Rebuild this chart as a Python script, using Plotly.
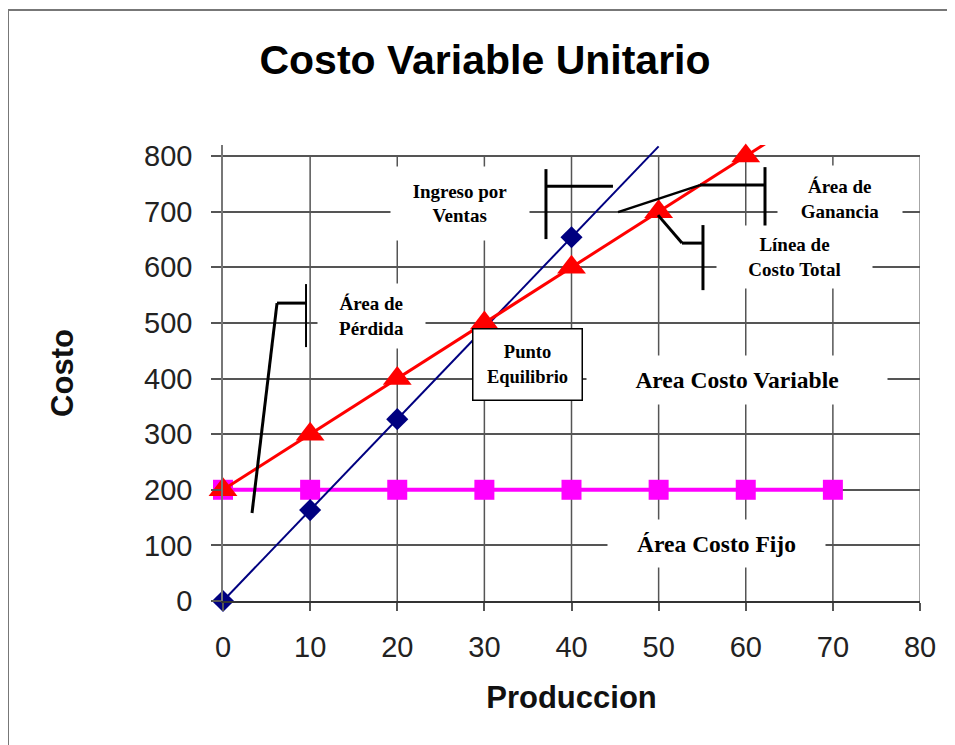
import plotly.graph_objects as go

# ---- data ----
produccion = [0, 10, 20, 30, 40, 50, 60, 70]
ingreso_ventas = [0, 163.5, 327, 490.5, 654, 817.5]          # blue (x 0..50)
costo_total = [200, 300, 400, 500, 600, 700, 800, 900]       # red
costo_fijo = [200, 200, 200, 200, 200, 200, 200, 200]        # magenta
x_ticks = [0, 10, 20, 30, 40, 50, 60, 70, 80]
y_ticks = [0, 100, 200, 300, 400, 500, 600, 700, 800]
Y_MAX_VISIBLE = 800
Y_CLIP = 820

title_text = "Costo Variable Unitario"
x_title = "Produccion"
y_title = "Costo"

fig = go.Figure()

def sizes(vals, s):
    return [s if v <= Y_MAX_VISIBLE else 0 for v in vals]

fig.add_trace(go.Scatter(
    x=produccion[:len(costo_fijo)], y=costo_fijo, mode="lines+markers", cliponaxis=False,
    line=dict(color="#FF00FF", width=4),
    marker=dict(symbol="square", size=sizes(costo_fijo, 20), color="#FF00FF", opacity=1,
                line=dict(width=0)),
    showlegend=False))
fig.add_trace(go.Scatter(
    x=produccion[:len(ingreso_ventas)], y=ingreso_ventas, mode="lines+markers", cliponaxis=False,
    line=dict(color="#000080", width=2),
    marker=dict(symbol="diamond", size=sizes(ingreso_ventas, 17), color="#000080", opacity=1,
                line=dict(width=0)),
    showlegend=False))
fig.add_trace(go.Scatter(
    x=produccion[:len(costo_total)], y=costo_total, mode="lines+markers", cliponaxis=False,
    line=dict(color="#FF0000", width=3),
    marker=dict(symbol="triangle-up", size=sizes(costo_total, 25), color="#FF0000", opacity=1,
                line=dict(width=0)),
    showlegend=False))

shapes = []
grid_col = "#555555"
# vertical gridlines (0..800 only)
for xv in x_ticks[1:]:
    shapes.append(dict(type="line", xref="x", yref="y", x0=xv, x1=xv, y0=0, y1=Y_MAX_VISIBLE,
                       line=dict(color=grid_col if xv < 80 else "#888888", width=1.5), layer="below"))

def seg(x0, y0, x1, y1, w=3):
    shapes.append(dict(type="line", xref="x", yref="y", x0=x0, y0=y0, x1=x1, y1=y1,
                       line=dict(color="black", width=w), layer="above"))
# Ingreso por Ventas bracket
seg(37.07, 650.8, 37.07, 776.6)
seg(37.07, 745.6, 44.76, 745.6)
# Área de Ganancia
seg(45.34, 699.3, 54.75, 747.9, 2.5)
seg(54.75, 747.9, 62.21, 747.9)
seg(62.21, 670.6, 62.21, 780.2)
# Línea de Costo Total
seg(49.93, 693.9, 52.68, 643.6)
seg(52.68, 643.6, 55.09, 643.6)
seg(55.09, 559.0, 55.09, 676.0)
# Área de Pérdida
seg(9.53, 456.6, 9.53, 569.9, 2)
seg(6.20, 535.7, 9.53, 535.7)
seg(6.20, 535.7, 3.33, 158.2)

# figure frame (left + top)
fx = (8 - 223) / 697
fy_top = (601 - 10) / 456
fy_bot = (601 - 760) / 456
shapes.append(dict(type="line", xref="paper", yref="paper", x0=fx, x1=fx, y0=fy_top, y1=fy_bot,
                   line=dict(color="#777777", width=2)))
shapes.append(dict(type="line", xref="paper", yref="paper", x0=fx, x1=(970 - 223) / 697,
                   y0=fy_top, y1=fy_top, line=dict(color="#777777", width=2)))

serif = dict(family="Liberation Serif", size=19, color="black")
serif_big = dict(family="Liberation Serif", size=23.5, color="black")
annotations = [
    dict(x=27.20, y=714.8, text="<b>Ingreso por<br>Ventas</b>", font=serif, width=138, height=73),
    dict(x=70.82, y=722.9, text="<b>Área de<br>Ganancia</b>", font=serif, width=124, height=66),
    dict(x=65.60, y=618.6, text="<b>Línea de<br>Costo Total</b>", font=serif, width=155, height=62),
    dict(x=17.04, y=512.5, text="<b>Área de<br>Pérdida</b>", font=serif, width=107, height=64),
    dict(x=59.0, y=397.4, text="<b>Area Costo Variable</b>", font=serif_big, width=300, height=48),
    dict(x=56.64, y=103.4, text="<b>Área Costo Fijo</b>", font=serif_big, width=217, height=47),
]
for a in annotations:
    a.update(xref="x", yref="y", showarrow=False, bgcolor="white", borderpad=0)
annotations.append(dict(x=34.95, y=426, xref="x", yref="y", showarrow=False,
                        text="<b>Punto<br>Equilibrio</b>",
                        font=dict(family="Liberation Serif", size=18.5, color="black"),
                        bgcolor="white", bordercolor="black", borderwidth=1.5,
                        width=106, height=68, borderpad=1))

# page body has an 8px margin: compensate so the plot area lands where the reference has it
OFF = 8
tick_font = dict(family="Liberation Sans", size=29, color="#222222")
fig.update_layout(
    width=955, height=745,
    margin=dict(l=223 - OFF, r=35 + OFF, t=145 - OFF, b=144 + OFF),
    paper_bgcolor="white", plot_bgcolor="white",
    title=dict(text="<b>" + title_text + "</b>", x=(485 - OFF) / 955, xanchor="center",
               y=1 - (60 - OFF) / 745, yanchor="middle", yref="container",
               font=dict(family="Liberation Sans", size=41, color="black")),
    xaxis=dict(range=[0, 80], tickvals=x_ticks, showgrid=False, zeroline=False,
               showline=True, linecolor="#333333", linewidth=1.5,
               ticks="outside", ticklen=8, tickcolor="#555555", tickwidth=1.5,
               tickfont=tick_font, ticklabelstandoff=11,
               title=dict(text="<b>" + x_title + "</b>", standoff=25,
                          font=dict(family="Liberation Sans", size=31, color="#111111"))),
    yaxis=dict(range=[0, Y_CLIP], tickvals=y_ticks, showgrid=True, gridcolor=grid_col, gridwidth=1.5,
               zeroline=False, showline=True, linecolor="#777777", linewidth=1.5,
               ticks="outside", ticklen=10, tickcolor="#555555", tickwidth=1.5,
               tickfont=tick_font, ticklabelstandoff=13,
               title=dict(text="<b>" + y_title + "</b>", standoff=61,
                          font=dict(family="Liberation Sans", size=31, color="#111111"))),
    shapes=shapes,
    annotations=annotations,
)

fig.write_html("out.html")
